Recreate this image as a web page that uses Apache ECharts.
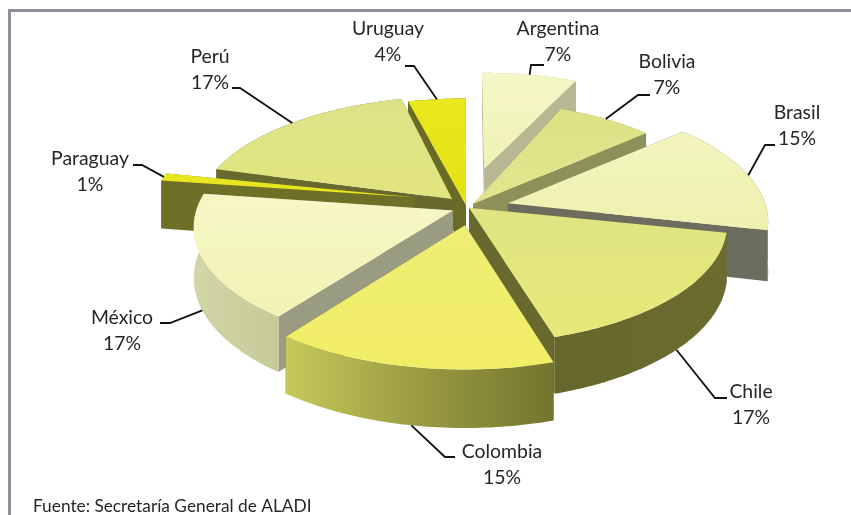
<!DOCTYPE html>
<html><head><meta charset="utf-8">
<style>html,body{margin:0;padding:0;background:#fff}#c{width:851px;height:515px}</style>
<script src="https://cdn.jsdelivr.net/npm/echarts@6/dist/echarts.min.js"></script>
</head><body><div id="c"></div>
<script>
const categories = ['Argentina','Bolivia','Brasil','Chile','Colombia','México','Paraguay','Perú','Uruguay'];
const shares = [7,7,15,17,15,17,1,17,4];
const source = 'Fuente: Secretaría General de ALADI';

// styling: top colour pair, radial wall, outer wall stops
const topColors = [['#F6F7C8','#EFF1B4'],['#DCE186','#E2E68E'],['#F3F5BE','#EEF1AE'],['#E0E482','#E6E977'],['#EFED74','#F0EE66'],['#F6F7C6','#F1F3B4'],['#E9E722','#E6E41C'],['#DDE287','#E2E57E'],['#EAE81E','#E4E212']];
const radialWalls = ['#B6B793','#8C9059','#6C6D5E','#68692F','#6D6E2F','#9A9C82','#6F7028','#68692F','#6A6B27'];
const arcWalls = [['#B6B793','#B6B793'],['#8C9059','#8C9059'],['#6C6D5E','#6C6D5E'],['#66672C','#6B6C30'],['#C6C95A','#9A9B42','#74752E'],['#D2D6A6','#C6CA98'],['#6F7028','#6F7028'],['#68692F','#68692F'],['#6A6B27','#6A6B27']];
// slice layout: ground-plane offset x, y, turn in degrees, radius factor
const offsets = [[20,82,0,.97],[8,2,-2,.96],[43,4,-1.5,.98],[4,-6,-2.5,.97],[0,-43,-2.5,.985],[-12,-12,-2.5,.97],[-52,17,-2.5,1],[-13,13,1,.97],[1,0,0,1]];
const drawOrder = [0,8,1,7,6,2,5,3,4];
// label centres and leader elbows
const labelAt = [[558,29],[667,62],[797,113],[751,392],[502,452],[122,318],[90,159],[210,57],[388,29]];
const leaderFrom = [[544,65,531,65],[650,95,638,95],[775,145,765,145],[727,398,715,398],[455,457,445,457],[160,323,170,323],[133,165,142,165],[232,88,240,88],[405,66,414,66]];
const leaderOnWall = [false,false,false,true,true,true,false,false,false];

const cx=465, cy=205, R=263, tilt=.46, persp=.135, depth=49.5;
const total = shares.reduce((a,b)=>a+b,0);
const rad = d=>d*Math.PI/180;
function startAngle(i){let s=0;for(let k=0;k<i;k++)s+=shares[k];return s/total*360;}
function project(X,Y,z){const s=1/(1+persp*Y/R);return [cx+X*s, cy-Y*s*tilt+(z||0)*s];}
function slicePt(i,deg,r,z){
  const o=offsets[i], a=rad(deg+o[2]), rr=R*o[3]*r;
  return project(o[0]+rr*Math.sin(a), o[1]+rr*Math.cos(a), z);
}
function arc(i,z){
  const a0=startAngle(i), a1=a0+shares[i]/total*360, pts=[], n=Math.max(4,Math.round(a1-a0));
  for(let k=0;k<=n;k++)pts.push(slicePt(i,a0+(a1-a0)*k/n,1,z));
  return pts;
}
function grad(c,vert){return {type:'linear',x:0,y:0,x2:vert?0:1,y2:vert?1:0,colorStops:c.map((col,k)=>({offset:k/(c.length-1),color:col}))};}
function poly(points,fill){return {type:'polygon',shape:{points},style:{fill,stroke:null}};}

function renderSlice(params){
  const i=drawOrder[params.dataIndex];
  const ape=slicePt(i,0,0,0), apeB=slicePt(i,0,0,depth);
  const top=arc(i,0), bottom=arc(i,depth);
  const c0=top[0], c1=top[top.length-1], b0=bottom[0], b1=bottom[bottom.length-1];
  return {type:'group',children:[
    poly([ape,c0,b0,apeB],radialWalls[i]),
    poly([ape,c1,b1,apeB],radialWalls[i]),
    poly(top.concat(bottom.slice().reverse()),grad(arcWalls[i],false)),
    poly([ape].concat(top),grad(topColors[i],true))
  ]};
}
function renderLabel(params){
  const i=params.dataIndex, l=labelAt[i], f=leaderFrom[i];
  const mid=startAngle(i)+shares[i]/total*180;
  const end=slicePt(i,mid,1,leaderOnWall[i]?depth:0);
  return {type:'group',children:[
    {type:'polyline',shape:{points:[[f[0],f[1]],[f[2],f[3]],end]},style:{fill:null,stroke:'#111',lineWidth:1.8}},
    {type:'text',style:{text:categories[i]+'\n'+shares[i]+'%',x:l[0],y:l[1]-13,align:'center',verticalAlign:'top',fill:'#262626',font:'19.4px Lato, "Open Sans", sans-serif',lineHeight:26}}
  ]};
}
// plain letter shapes, no joined "ti"
const nativeGetContext = HTMLCanvasElement.prototype.getContext;
HTMLCanvasElement.prototype.getContext = function(){
  const ctx = nativeGetContext.apply(this, arguments);
  if (ctx && 'fontVariantCaps' in ctx) { ctx.textRendering = 'optimizeSpeed'; }
  return ctx;
};
const chart=echarts.init(document.getElementById('c'),null,{renderer:'canvas'});
chart.setOption({
  animation:false,
  backgroundColor:'#ffffff',
  tooltip:{show:false},
  graphic:[
    {type:'rect',shape:{x:8,y:9,width:843,height:3},style:{fill:'#8C8E98'},silent:true},
    {type:'rect',shape:{x:8,y:9,width:3,height:506},style:{fill:'#8C8E98'},silent:true},
    {type:'text',style:{text:source,x:33,y:498,fill:'#262626',font:'17.3px Lato, "Open Sans", sans-serif'},silent:true}
  ],
  series:[
    {type:'custom',coordinateSystem:'none',silent:true,data:drawOrder.map(i=>[i,shares[i]]),renderItem:renderSlice,z:2},
    {type:'custom',coordinateSystem:'none',silent:true,data:categories.map((n,i)=>({name:n,value:[i,shares[i]]})),renderItem:renderLabel,z:3}
  ]
});
</script></body></html>
